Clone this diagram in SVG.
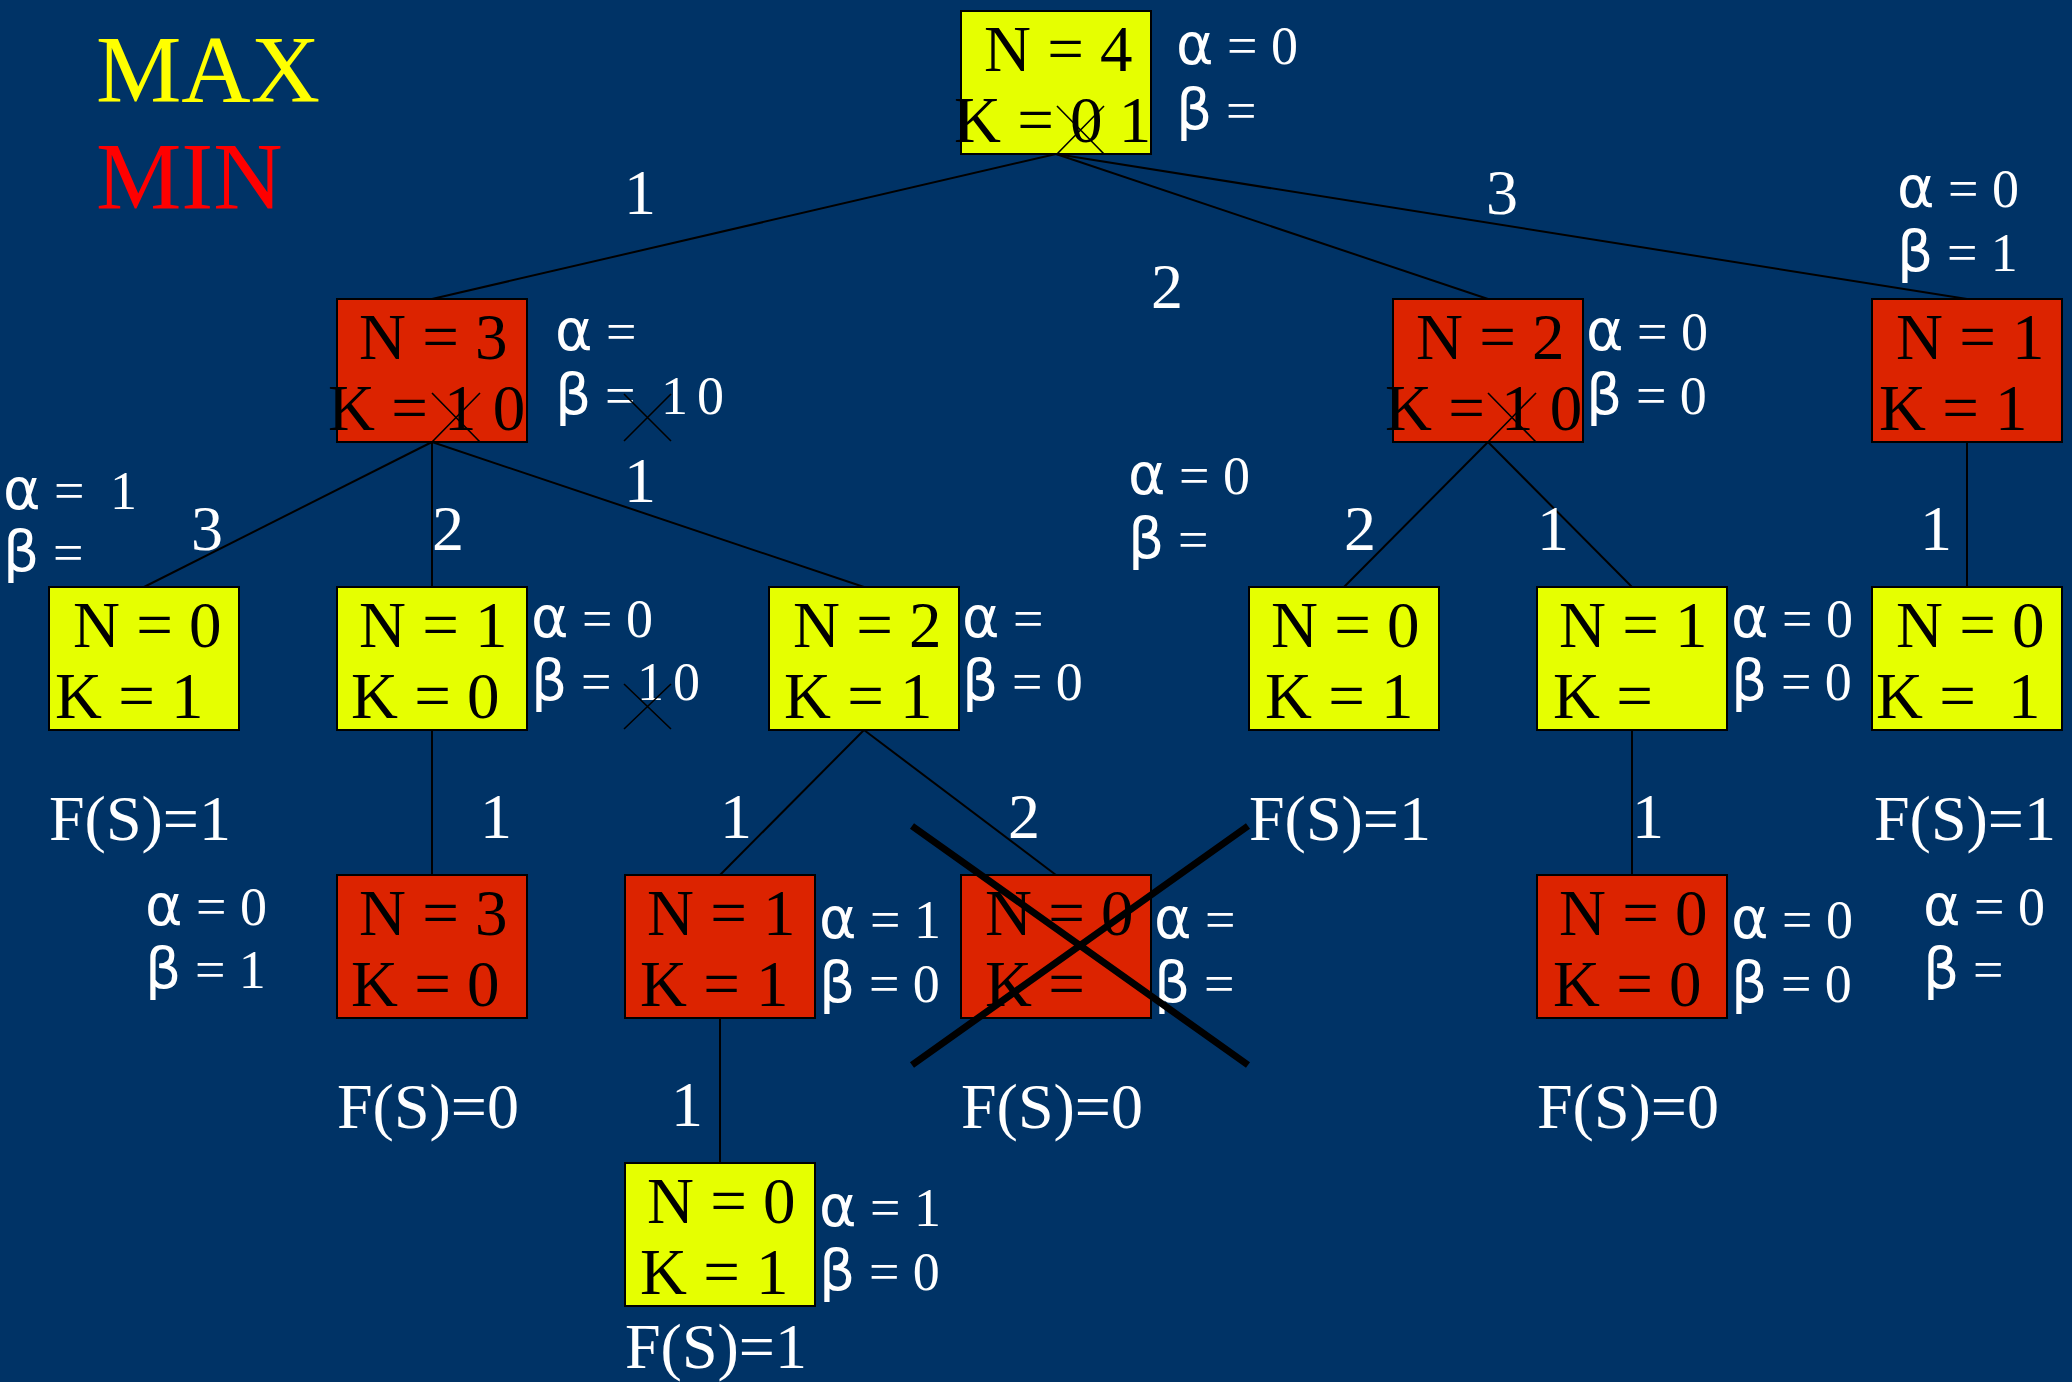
<svg xmlns="http://www.w3.org/2000/svg" width="2072" height="1382" viewBox="0 0 2072 1382">
  <style>
    .max { fill: #e6ff00; stroke: #000; stroke-width: 2; }
    .min { fill: #dc2300; stroke: #000; stroke-width: 2; }
    .nt { font-family: "Liberation Serif", "Times New Roman", serif; font-size: 65px; fill: #000; }
    .ab { font-family: "Liberation Serif", "Times New Roman", serif; font-size: 54px; fill: #fff; }
    .g { font-family: "DejaVu Sans", sans-serif; font-size: 57px; }
    .el { font-family: "Liberation Serif", "Times New Roman", serif; font-size: 64px; fill: #fff; text-anchor: middle; }
    .fs { font-family: "Liberation Serif", "Times New Roman", serif; font-size: 64px; fill: #fff; }
    .edge { stroke: #000; stroke-width: 2; fill: none; }
    .x { stroke: #000; stroke-width: 1.6; fill: none; }
    .bigx { stroke: #000; stroke-width: 7; fill: none; }
  </style>

  <rect width="2072" height="1382" fill="#003366"/>

  <!-- legend -->
  <g id="legend" font-family="Liberation Serif, Times New Roman, serif" font-size="96">
    <text x="96" y="102" fill="#ffff00">MAX</text>
    <text x="96" y="209" fill="#ff0000">MIN</text>
  </g>

  <!-- connectors -->
  <g id="connectors" class="edge">
    <line x1="1056" y1="154" x2="432" y2="299"/>
    <line x1="1056" y1="154" x2="1488" y2="299"/>
    <line x1="1056" y1="154" x2="1967" y2="299"/>
    <line x1="432" y1="442" x2="144" y2="587"/>
    <line x1="432" y1="442" x2="432" y2="587"/>
    <line x1="432" y1="442" x2="864" y2="587"/>
    <line x1="1488" y1="442" x2="1344" y2="587"/>
    <line x1="1488" y1="442" x2="1632" y2="587"/>
    <line x1="1967" y1="442" x2="1967" y2="587"/>
    <line x1="432" y1="730" x2="432" y2="875"/>
    <line x1="864" y1="730" x2="720" y2="875"/>
    <line x1="864" y1="730" x2="1056" y2="875"/>
    <line x1="1632" y1="730" x2="1632" y2="875"/>
    <line x1="720" y1="1018" x2="720" y2="1163"/>
  </g>

  <!-- edge labels -->
  <g id="edge-labels" class="el">
    <text x="640" y="214">1</text>
    <text x="1167" y="308">2</text>
    <text x="1502" y="214">3</text>
    <text x="207" y="550">3</text>
    <text x="448" y="550">2</text>
    <text x="640" y="502">1</text>
    <text x="1360" y="550">2</text>
    <text x="1553" y="550">1</text>
    <text x="1936" y="550">1</text>
    <text x="496" y="838">1</text>
    <text x="736" y="838">1</text>
    <text x="1024" y="838">2</text>
    <text x="1648" y="838">1</text>
    <text x="687" y="1126">1</text>
  </g>

  <!-- root: MAX, N=4 -->
  <g id="n4">
    <rect class="max" x="961" y="11" width="190" height="143"/>
    <text class="nt" x="984" y="71">N = 4</text>
    <text class="nt" x="954" y="142">K = 0 1</text>
    <path class="x" d="M1057 106 L1104 154 M1104 106 L1057 154"/>
    <text class="ab" x="1176" y="64"><tspan class="g">α</tspan> = 0</text>
    <text class="ab" x="1176" y="129"><tspan class="g">β</tspan> =</text>
  </g>

  <!-- MIN, N=3 -->
  <g id="n3">
    <rect class="min" x="337" y="299" width="190" height="143"/>
    <text class="nt" x="359" y="359">N = 3</text>
    <text class="nt" x="328" y="430">K = 1 0</text>
    <path class="x" d="M432 393 L480 442 M480 393 L432 442"/>
    <text class="ab" x="555" y="350"><tspan class="g">α</tspan> =</text>
    <text class="ab" x="555" y="414"><tspan class="g">β</tspan> = <tspan x="661">1</tspan><tspan x="697">0</tspan></text>
    <path class="x" d="M624 394 L671 441 M671 394 L624 441"/>
  </g>

  <!-- MIN, N=2 -->
  <g id="n2">
    <rect class="min" x="1393" y="299" width="190" height="143"/>
    <text class="nt" x="1416" y="359">N = 2</text>
    <text class="nt" x="1385" y="430">K = 1 0</text>
    <path class="x" d="M1488 393 L1536 442 M1536 393 L1488 442"/>
    <text class="ab" x="1586" y="350"><tspan class="g">α</tspan> = 0</text>
    <text class="ab" x="1586" y="414"><tspan class="g">β</tspan> = 0</text>
  </g>

  <!-- MIN, N=1 -->
  <g id="n1">
    <rect class="min" x="1872" y="299" width="190" height="143"/>
    <text class="nt" x="1896" y="359">N = 1</text>
    <text class="nt" x="1879" y="430">K = 1</text>
    <text class="ab" x="1897" y="207"><tspan class="g">α</tspan> = 0</text>
    <text class="ab" x="1897" y="271"><tspan class="g">β</tspan> = 1</text>
  </g>

  <!-- MAX, N=0 under N=3 -->
  <g id="n3-0">
    <rect class="max" x="49" y="587" width="190" height="143"/>
    <text class="nt" x="73" y="647">N = 0</text>
    <text class="nt" x="55" y="718">K = 1</text>
    <text class="ab" x="3" y="509"><tspan class="g">α</tspan> = <tspan x="110">1</tspan></text>
    <text class="ab" x="3" y="571"><tspan class="g">β</tspan> =</text>
    <text class="fs" x="49" y="840">F(S)=1</text>
  </g>

  <!-- MAX, N=1 under N=3 -->
  <g id="n3-1">
    <rect class="max" x="337" y="587" width="190" height="143"/>
    <text class="nt" x="359" y="647">N = 1</text>
    <text class="nt" x="351" y="718">K = 0</text>
    <text class="ab" x="531" y="637"><tspan class="g">α</tspan> = 0</text>
    <text class="ab" x="531" y="700"><tspan class="g">β</tspan> = <tspan x="637">1</tspan><tspan x="673">0</tspan></text>
    <path class="x" d="M624 684 L671 729 M671 684 L624 729"/>
  </g>

  <!-- MAX, N=2 under N=3 -->
  <g id="n3-2">
    <rect class="max" x="769" y="587" width="190" height="143"/>
    <text class="nt" x="793" y="647">N = 2</text>
    <text class="nt" x="784" y="718">K = 1</text>
    <text class="ab" x="962" y="637"><tspan class="g">α</tspan> =</text>
    <text class="ab" x="962" y="700"><tspan class="g">β</tspan> = 0</text>
  </g>

  <!-- MAX, N=0 under N=2 -->
  <g id="n2-0">
    <rect class="max" x="1249" y="587" width="190" height="143"/>
    <text class="nt" x="1271" y="647">N = 0</text>
    <text class="nt" x="1265" y="718">K = 1</text>
    <text class="ab" x="1128" y="494"><tspan class="g">α</tspan> = 0</text>
    <text class="ab" x="1128" y="558"><tspan class="g">β</tspan> =</text>
    <text class="fs" x="1249" y="840">F(S)=1</text>
  </g>

  <!-- MAX, N=1 under N=2 -->
  <g id="n2-1">
    <rect class="max" x="1537" y="587" width="190" height="143"/>
    <text class="nt" x="1559" y="647">N = 1</text>
    <text class="nt" x="1553" y="718">K =</text>
    <text class="ab" x="1731" y="637"><tspan class="g">α</tspan> = 0</text>
    <text class="ab" x="1731" y="700"><tspan class="g">β</tspan> = 0</text>
  </g>

  <!-- MAX, N=0 under N=1 -->
  <g id="n1-0">
    <rect class="max" x="1872" y="587" width="190" height="143"/>
    <text class="nt" x="1896" y="647">N = 0</text>
    <text class="nt" x="1876" y="718">K = <tspan x="2008">1</tspan></text>
    <text class="fs" x="1874" y="840">F(S)=1</text>
    <text class="ab" x="1923" y="925"><tspan class="g">α</tspan> = 0</text>
    <text class="ab" x="1923" y="988"><tspan class="g">β</tspan> =</text>
  </g>

  <!-- MIN, N=3 under N=1 -->
  <g id="n3-1-3">
    <rect class="min" x="337" y="875" width="190" height="143"/>
    <text class="nt" x="359" y="935">N = 3</text>
    <text class="nt" x="351" y="1006">K = 0</text>
    <text class="ab" x="145" y="925"><tspan class="g">α</tspan> = 0</text>
    <text class="ab" x="145" y="988"><tspan class="g">β</tspan> = 1</text>
    <text class="fs" x="337" y="1128">F(S)=0</text>
  </g>

  <!-- MIN, N=1 under N=2 -->
  <g id="n3-2-1">
    <rect class="min" x="625" y="875" width="190" height="143"/>
    <text class="nt" x="647" y="935">N = 1</text>
    <text class="nt" x="640" y="1006">K = 1</text>
    <text class="ab" x="819" y="938"><tspan class="g">α</tspan> = 1</text>
    <text class="ab" x="819" y="1002"><tspan class="g">β</tspan> = 0</text>
  </g>

  <!-- MIN, N=0 under N=2 (pruned) -->
  <g id="n3-2-0">
    <rect class="min" x="961" y="875" width="190" height="143"/>
    <text class="nt" x="985" y="935">N = 0</text>
    <text class="nt" x="985" y="1006">K =</text>
    <text class="ab" x="1154" y="938"><tspan class="g">α</tspan> =</text>
    <text class="ab" x="1154" y="1002"><tspan class="g">β</tspan> =</text>
    <text class="fs" x="961" y="1128">F(S)=0</text>
    <path class="bigx" d="M912 826 L1248 1065 M1248 826 L912 1065"/>
  </g>

  <!-- MIN, N=0 under N=1 -->
  <g id="n2-1-0">
    <rect class="min" x="1537" y="875" width="190" height="143"/>
    <text class="nt" x="1559" y="935">N = 0</text>
    <text class="nt" x="1553" y="1006">K = 0</text>
    <text class="ab" x="1731" y="938"><tspan class="g">α</tspan> = 0</text>
    <text class="ab" x="1731" y="1002"><tspan class="g">β</tspan> = 0</text>
    <text class="fs" x="1537" y="1128">F(S)=0</text>
  </g>

  <!-- MAX, N=0 under N=1 (depth 4) -->
  <g id="n3-2-1-0">
    <rect class="max" x="625" y="1163" width="190" height="143"/>
    <text class="nt" x="647" y="1223">N = 0</text>
    <text class="nt" x="640" y="1294">K = 1</text>
    <text class="ab" x="819" y="1226"><tspan class="g">α</tspan> = 1</text>
    <text class="ab" x="819" y="1290"><tspan class="g">β</tspan> = 0</text>
    <text class="fs" x="625" y="1368">F(S)=1</text>
  </g>
</svg>
